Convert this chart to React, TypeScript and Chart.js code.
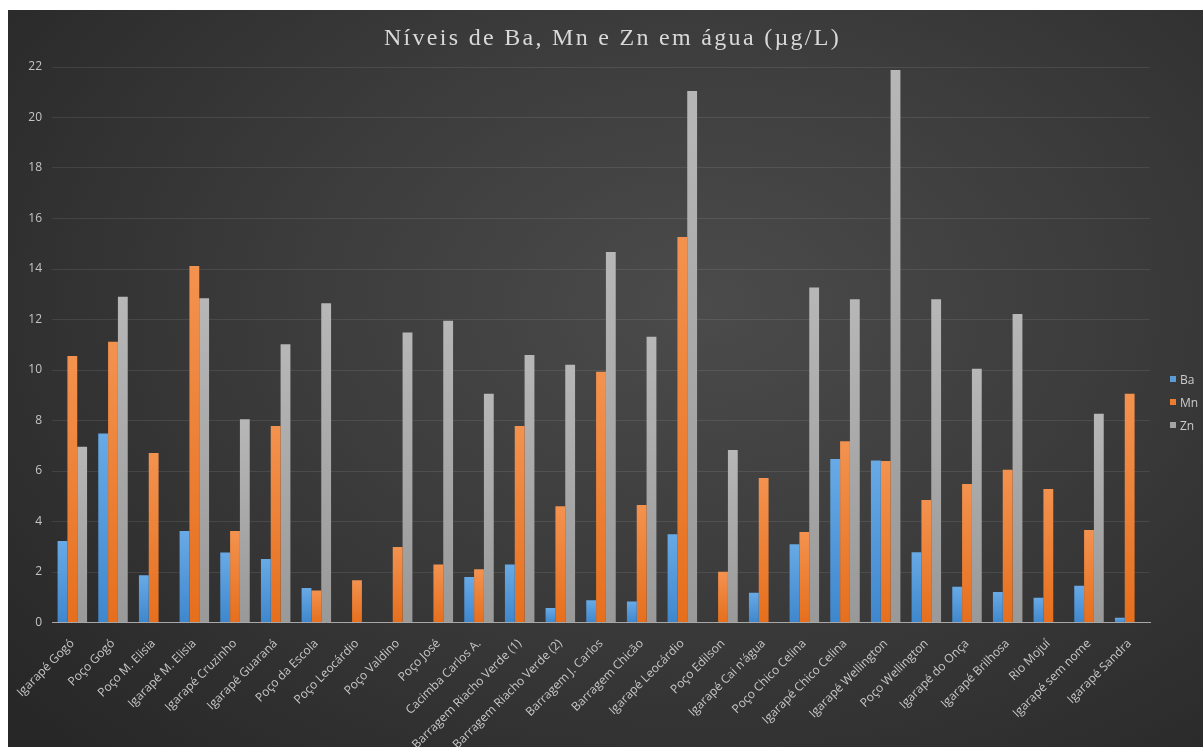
import React, { useEffect, useRef } from "react";
import { Chart, registerables } from "chart.js";

Chart.register(...registerables);

const titleText = "Níveis de Ba, Mn e Zn em água (µg/L)";

const categories = [
  "Igarapé Gogó",
  "Poço Gogó",
  "Poço M. Elisia",
  "Igarapé M. Elisia",
  "Igarapé Cruzinho",
  "Igarapé Guaraná",
  "Poço da Escola",
  "Poço Leocárdio",
  "Poço Valdino",
  "Poço José",
  "Cacimba Carlos A.",
  "Barragem Riacho Verde (1)",
  "Barragem Riacho Verde (2)",
  "Barragem J. Carlos",
  "Barragem Chicão",
  "Igarapé Leocárdio",
  "Poço Edilson",
  "Igarapé Cai n'água",
  "Poço Chico Celina",
  "Igarapé Chico Celina",
  "Igarapé Wellington",
  "Poço Wellington",
  "Igarapé do Onça",
  "Igarapé Brilhosa",
  "Rio Mojuí",
  "Igarapé sem nome",
  "Igarapé Sandra",
];

const baValues = [
  3.23, 7.49, 1.87, 3.62, 2.77, 2.51, 1.37, 0, 0, 0, 1.8, 2.3, 0.57, 0.88,
  0.83, 3.5, 0, 1.18, 3.1, 6.48, 6.42, 2.78, 1.42, 1.21, 0.98, 1.46, 0.19,
];

const mnValues = [
  10.55, 11.12, 6.71, 14.12, 3.62, 7.78, 1.27, 1.67, 2.99, 2.3, 2.11, 7.78,
  4.6, 9.93, 4.65, 15.27, 2.01, 5.72, 3.58, 7.18, 6.4, 4.85, 5.49, 6.05, 5.29,
  3.66, 9.06,
];

const znValues = [
  6.96, 12.9, 0, 12.84, 8.05, 11.02, 12.64, 0, 11.49, 11.95, 9.06, 10.59,
  10.21, 14.67, 11.32, 21.05, 6.83, 0, 13.27, 12.8, 21.88, 12.8, 10.05, 12.22,
  0, 8.27, 0,
];

const seriesNames = ["Ba", "Mn", "Zn"];
const seriesTop = ["#68aae6", "#f3924f", "#b7b7b7"];
const seriesBottom = ["#3f87cd", "#e66f1d", "#999999"];
const legendColors = ["#5b9bd5", "#ed7d31", "#a5a5a5"];

const yMin = 0;
const yMax = 22;
const yStep = 2;

const W = 1195;
const H = 737;

function barFill(top: string, bottom: string) {
  return (ctx: any) => {
    const chart = ctx.chart;
    if (ctx.type !== "data") return bottom;
    const ys = chart.scales && chart.scales.y;
    const v = ctx.parsed ? ctx.parsed.y : 0;
    if (!ys || !v) return bottom;
    const y1 = ys.getPixelForValue(v);
    const y0 = ys.getPixelForValue(0);
    if (!isFinite(y1) || !isFinite(y0) || y0 - y1 < 1) return bottom;
    const g = chart.ctx.createLinearGradient(0, y1, 0, y0);
    g.addColorStop(0, top);
    g.addColorStop(1, bottom);
    return g;
  };
}

export default function App() {
  const canvasRef = useRef<HTMLCanvasElement | null>(null);

  useEffect(() => {
    if (!canvasRef.current) return;
    const values = [baValues, mnValues, znValues];
    const chart = new Chart(canvasRef.current, {
      type: "bar",
      data: {
        labels: categories,
        datasets: seriesNames.map((name, i) => ({
          label: name,
          data: values[i],
          backgroundColor: barFill(seriesTop[i], seriesBottom[i]),
          borderWidth: 0,
          categoryPercentage: 0.725,
          barPercentage: 1.0,
        })),
      },
      options: {
        animation: false,
        responsive: false,
        maintainAspectRatio: false,
        layout: { padding: { top: 57, right: 53, left: 0, bottom: 0 } },
        plugins: {
          legend: { display: false },
          title: { display: false },
          tooltip: { enabled: false },
        },
        scales: {
          x: {
            grid: { display: false },
            border: { display: true, color: "#a8a8a8", width: 1 },
            ticks: {
              color: "#c8c8c8",
              font: { family: "'Open Sans', sans-serif", size: 12 },
              minRotation: 45,
              maxRotation: 45,
              autoSkip: false,
              padding: 6,
            },
            afterFit: (s: any) => {
              s.height = 124.5;
            },
          },
          y: {
            min: yMin,
            max: yMax,
            ticks: {
              stepSize: yStep,
              color: "#c4c4c4",
              font: { family: "'Open Sans', sans-serif", size: 12 },
              padding: 10,
            },
            grid: { color: "rgba(255,255,255,0.09)", drawTicks: false },
            border: { display: false },
            afterFit: (s: any) => {
              s.width = 44;
            },
          },
        },
      },
    });
    return () => chart.destroy();
  }, []);

  const legendRowsY = [369, 392, 415];

  return (
    <div
      style={{
        position: "fixed",
        left: 8,
        top: 10,
        width: W,
        height: H,
        overflow: "hidden",
        background:
          "radial-gradient(ellipse 75% 85% at 58% 40%, #4b4b4b 0%, #3c3c3c 45%, #272727 100%)",
      }}
    >
      <div
        style={{
          position: "absolute",
          left: 14,
          right: 0,
          top: 11,
          textAlign: "center",
          fontFamily: "'Liberation Serif', serif",
          fontSize: 24,
          letterSpacing: "2.3px",
          color: "#d9d9d9",
          lineHeight: "32px",
        }}
      >
        {titleText}
      </div>
      <canvas
        ref={canvasRef}
        width={W}
        height={H}
        style={{ position: "absolute", left: 0, top: 0, width: W, height: H }}
      />
      {seriesNames.map((name, i) => (
        <div
          key={name}
          style={{
            position: "absolute",
            left: 1162,
            top: legendRowsY[i] - 9,
            height: 18,
            display: "flex",
            alignItems: "center",
            fontFamily: "'Open Sans', sans-serif",
            fontSize: 12,
            color: "#cccccc",
          }}
        >
          <span
            style={{
              display: "inline-block",
              width: 6,
              height: 6,
              background: legendColors[i],
              marginRight: 4,
            }}
          />
          {name}
        </div>
      ))}
    </div>
  );
}
